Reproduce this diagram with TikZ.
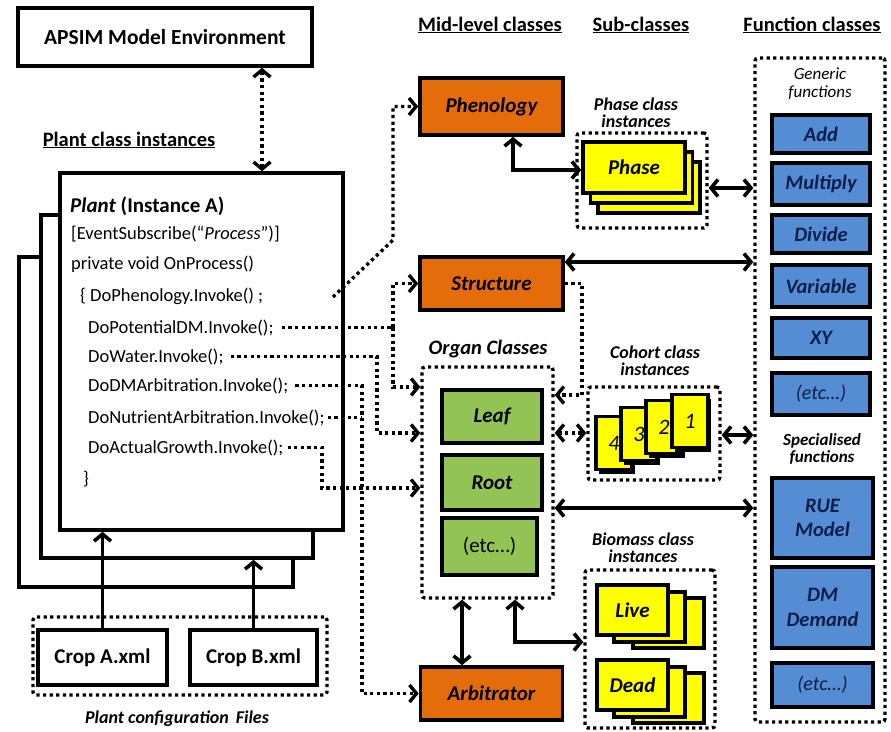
\documentclass[tikz,border=0pt]{standalone}
\usepackage{fontspec}
\setmainfont{Carlito}
\usetikzlibrary{arrows.meta,calc,shadows}
\definecolor{orgC}{RGB}{228,108,10}
\definecolor{yelC}{RGB}{255,255,0}
\definecolor{grnC}{RGB}{146,196,85}
\definecolor{bluC}{RGB}{84,141,212}
\definecolor{navC}{RGB}{15,30,70}
\newcommand\fsz[1]{\fontsize{#1}{#1}\selectfont}
\begin{document}
\begin{tikzpicture}[x=1pt,y=-1pt,
  >={Straight Barb[length=7pt,width=17pt]},
  box/.style={draw, line width=3.6pt, inner sep=0pt, align=center},
  wbox/.style={box, fill=white},
  obox/.style={box, fill=orgC, font=\bfseries\itshape\fsz{21}},
  gbox/.style={box, fill=grnC, font=\itshape\fsz{21}},
  ybox/.style={box, fill=yelC, font=\bfseries\itshape\fsz{21}},
  fbox/.style={box, fill=bluC, text=navC, font=\bfseries\itshape\fsz{20.5}, align=center},
  card/.style={box, fill=yelC, font=\itshape\fsz{22}, drop shadow={opacity=1, fill=black, shadow xshift=3pt, shadow yshift=-4pt}},
  dotbox/.style={draw, line width=3.4pt, dash pattern=on 3.2pt off 3.4pt, rounded corners=3pt, inner sep=0pt},
  dl/.style={line width=3.4pt, dash pattern=on 3.2pt off 3.4pt},
  sl/.style={line width=3.6pt},
  code/.style={inner sep=0pt, anchor=base west, font=\fsz{18.5}},
  head/.style={font=\bfseries\fsz{20.5}},
  lab/.style={font=\bfseries\itshape\fsz{18}, align=center, inner sep=0pt},
  ]
\useasboundingbox (0,0) rectangle (891,731);

% ---------- headers ----------
\node[head] (hplant) at (129,140) {\underline{Plant class instances}};
\node[head] (hmid) at (490,25) {\underline{Mid-level classes}};
\node[head] (hsub) at (641,25) {\underline{Sub-classes}};
\node[head] (hfun) at (812,25) {\underline{Function classes}};

% ---------- APSIM ----------
\node[box, minimum width=294pt, minimum height=58pt, font=\bfseries\fsz{21.5}] (apsim) at (165,37) {APSIM Model Environment};

% ---------- plant stack ----------
\node[wbox, minimum width=274pt, minimum height=330pt] (plantC) at (156,422) {};
\node[wbox, minimum width=272pt, minimum height=343pt] (plantB) at (177,386.5) {};
\node[wbox, minimum width=283pt, minimum height=357pt] (plantA) at (201.5,351.5) {};

\node[code, font=\bfseries\fsz{21}] (pt) at (70,212) {\textit{Plant} (Instance A)};
\node[code] (ev) at (71,239) {[EventSubscribe(“\textit{Process}”)]};
\node[code] (pv) at (71,269) {private void OnProcess()};
\node[code] (c1) at (80,301) {\{ DoPhenology.Invoke() ;};
\node[code] (c2) at (88,333) {DoPotentialDM.Invoke();};
\node[code] (c3) at (88,362) {DoWater.Invoke();};
\node[code] (c4) at (88,391) {DoDMArbitration.Invoke();};
\node[code] (c5) at (88,423) {DoNutrientArbitration.Invoke();};
\node[code] (c6) at (88,453) {DoActualGrowth.Invoke();};
\node[code] (cb) at (83,484) {\}};

% ---------- crop files ----------
\node[dotbox, minimum width=294pt, minimum height=78pt] (cropbox) at (180,656) {};
\node[box, minimum width=129pt, minimum height=55pt, font=\bfseries\fsz{21}] (cropA) at (102.5,657.5) {Crop A.xml};
\node[box, minimum width=127pt, minimum height=55pt, font=\bfseries\fsz{21}] (cropB) at (253.5,657.5) {Crop B.xml};
\node[lab] (cfg) at (177,719) {Plant configuration\, Files};

% ---------- mid-level ----------
\node[obox, minimum width=143pt, minimum height=57pt] (phen) at (491.5,106.5) {Phenology};
\node[obox, minimum width=143pt, minimum height=53pt] (struct) at (491.5,283.5) {Structure};
\node[obox, minimum width=142pt, minimum height=53pt] (arb) at (491.5,693.5) {Arbitrator};

\node[font=\bfseries\itshape\fsz{20.5}] (orglab) at (488,349) {Organ Classes};
\node[dotbox, minimum width=131pt, minimum height=231pt] (organ) at (487.5,482.5) {};
\node[gbox, minimum width=100pt, minimum height=53pt] (leaf) at (492,416.5) {\bfseries Leaf};
\node[gbox, minimum width=100pt, minimum height=55pt] (root) at (492,482.5) {\bfseries Root};
\node[gbox, minimum width=95pt, minimum height=57pt, font=\fsz{21}] (oetc) at (489.5,546.5) {(etc…)};

% ---------- sub-classes ----------
\node[lab] (phlab) at (636,113) {Phase class\\[-1pt]instances};
\node[dotbox, minimum width=130pt, minimum height=95pt] (phasebox) at (642,180.5) {};
\node[ybox, minimum width=102pt, minimum height=51pt] (ph3) at (649,187.5) {};
\node[ybox, minimum width=102pt, minimum height=51pt] (ph2) at (641.5,177.5) {};
\node[ybox, minimum width=102pt, minimum height=51pt] (ph1) at (634,167.5) {Phase};

\node[lab] (cohlab) at (655,361) {Cohort class\\[-1pt]instances};
\node[dotbox, minimum width=132pt, minimum height=93pt] (cohort) at (654,433.5) {};
\node[card, minimum width=36pt, minimum height=53pt] (k4) at (614,443) {4};
\node[card, minimum width=36pt, minimum height=53pt] (k3) at (639,434) {3};
\node[card, minimum width=36pt, minimum height=53pt] (k2) at (664,427) {2};
\node[card, minimum width=36pt, minimum height=53pt] (k1) at (690,421) {1};

\node[lab] (biolab) at (643,548) {Biomass class\\[-1pt]instances};
\node[dotbox, minimum width=130pt, minimum height=158pt] (biomass) at (650,649) {};
\node[ybox, minimum width=71pt, minimum height=50pt] (lv3) at (668.5,623) {};
\node[ybox, minimum width=71pt, minimum height=50pt] (lv2) at (649.5,617) {};
\node[ybox, minimum width=71pt, minimum height=50pt] (lv1) at (632.5,610) {Live};
\node[ybox, minimum width=71pt, minimum height=50pt] (dd3) at (668.5,698) {};
\node[ybox, minimum width=71pt, minimum height=50pt] (dd2) at (649.5,692) {};
\node[ybox, minimum width=71pt, minimum height=50pt] (dd1) at (632.5,685) {Dead};

% ---------- function classes ----------
\node[dotbox, minimum width=130pt, minimum height=664pt] (func) at (820,390) {};
\node[font=\itshape\fsz{17}, align=center, inner sep=0pt] (genlab) at (820,84) {Generic\\[1pt]functions};
\node[fbox, minimum width=98pt, minimum height=38pt] (fadd) at (821,134) {Add};
\node[fbox, minimum width=98pt, minimum height=42pt] (fmul) at (821,184) {Multiply};
\node[fbox, minimum width=98pt, minimum height=38pt] (fdiv) at (821,234) {Divide};
\node[fbox, minimum width=98pt, minimum height=42pt] (fvar) at (821,286) {Variable};
\node[fbox, minimum width=98pt, minimum height=40pt] (fxy) at (821,338) {XY};
\node[fbox, minimum width=98pt, minimum height=42pt, font=\itshape\fsz{20}] (fetc) at (821,394) {(etc…)};
\node[font=\bfseries\itshape\fsz{17}, align=center, inner sep=0pt] (speclab) at (822,449) {Specialised\\[0pt]functions};
\node[fbox, minimum width=101pt, minimum height=80pt] (frue) at (822.5,518) {RUE\\[4pt]Model};
\node[fbox, minimum width=101pt, minimum height=81pt] (fdm) at (822.5,607.5) {DM\\[4pt]Demand};
\node[fbox, minimum width=101pt, minimum height=44pt, font=\itshape\fsz{20}] (fetc2) at (822.5,685) {(etc…)};

% ---------- helper coordinates ----------
\coordinate (xa) at (262,0);
\coordinate (s1) at (333,297);
\coordinate (b1) at (393,240);
\coordinate (x2) at (393,0);
\coordinate (x3) at (377,0);
\coordinate (x4) at (362,0);
\coordinate (x6) at (322,0);
\coordinate (xs) at (582,0);
\coordinate (xp) at (513,0);
\coordinate (xarb) at (462,0);
\coordinate (xbio) at (515,0);

% ---------- connectors ----------
\draw[dl, <->] (apsim.south -| xa) -- (plantA.north -| xa);

\draw[dl, ->] (s1) -- (b1) |- (phen.west);
\draw[dl] ([xshift=8pt]c2.east) -- (c2.east -| x2);
\draw[dl, ->] (c2.east -| x2) |- (struct.west);
\draw[dl, ->] (c2.east -| x2) |- (organ.west |- 0,387);
\draw[dl, ->] ([xshift=7pt]c3.east) -- (c3.east -| x3) |- (organ.west |- 0,433);
\draw[dl, ->] ([xshift=7pt]c4.east) -- (c4.east -| x4) |- (arb.west);
\draw[dl] ([xshift=3pt]c5.east) -- (c5.east -| x4);
\draw[dl, ->] ([xshift=4pt]c6.east) -- (c6.east -| x6) |- (organ.west |- 0,488);

\draw[dl, ->] (struct.east) -- (struct.east -| xs) -- (xs |- 0,395) -- (organ.east |- 0,395);
\draw[dl, <->] (organ.east |- 0,433) -- (cohort.west |- 0,433);

\draw[sl, <->] (struct.east |- 0,262) -- (func.west |- 0,262);
\draw[sl, <->] (phen.south -| xp) |- (ph1.west |- 0,170);
\draw[sl, <->] (phasebox.east |- 0,188) -- (func.west |- 0,188);
\draw[sl, <->] (cohort.east |- 0,435) -- (func.west |- 0,435);
\draw[sl, <->] (organ.east |- 0,508) -- (func.west |- 0,508);
\draw[sl, <->] (organ.south -| xarb) -- (arb.north -| xarb);
\draw[sl, <->] (organ.south -| xbio) |- (biomass.west |- 0,642);

\draw[sl, ->] (cropA.north) -- (plantA.south -| cropA.north);
\draw[sl, ->] (cropB.north) -- (plantB.south -| cropB.north);
\end{tikzpicture}
\end{document}
